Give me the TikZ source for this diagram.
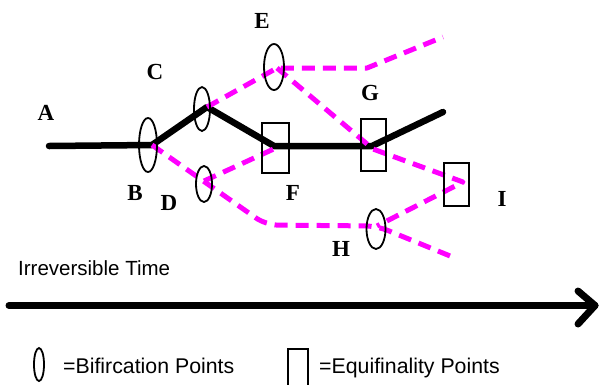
\documentclass[tikz,border=0pt]{standalone}
\usepackage{fontspec}
\setmainfont{Liberation Serif}
\newfontfamily\legendfont{Liberation Sans}
\usetikzlibrary{shapes.geometric}

\definecolor{altpink}{RGB}{255,0,255}

\tikzset{
  bif/.style 2 args={draw, ellipse, line width=1.8pt, inner sep=0pt,
    minimum width=#1, minimum height=#2},
  eqf/.style 2 args={draw, rectangle, line width=1.8pt, inner sep=0pt,
    minimum width=#1, minimum height=#2},
  mainpath/.style={line width=6.5pt, line cap=round, line join=round},
  altpath/.style={altpink, line width=5pt, dash pattern=on 13pt off 8pt,
    line join=round},
  lbl/.style={font=\fontsize{23}{23}\selectfont\bfseries, inner sep=0pt},
  legtext/.style={font=\legendfont\fontsize{21.3}{21.3}\selectfont,
    inner sep=0pt, anchor=base west},
  timetext/.style={legtext, font=\legendfont\fontsize{20.5}{20.5}\selectfont},
  timeline/.style={line width=7pt, line cap=round, line join=round}
}

\begin{document}
\begin{tikzpicture}[x=1pt,y=-1pt]
\useasboundingbox (0,0) rectangle (599,384);

% junction points of the trajectories
\coordinate (start) at (49,146);
\coordinate (jB) at (152,145);
\coordinate (jC) at (207,107);
\coordinate (jF) at (274,146);
\coordinate (jG) at (372,146);
\coordinate (endG) at (443,112);
\coordinate (jE) at (277,68);
\coordinate (kE) at (367,68);
\coordinate (endE) at (443,37);
\coordinate (jD) at (204,181);
\coordinate (jF2) at (278,147);
\coordinate (bend) at (266,225);
\coordinate (jH) at (377,226);
\coordinate (endH) at (455,258);
\coordinate (jI) at (463,182);
\coordinate (mG) at (373,149);

% realised trajectory
\draw[mainpath] (start) -- (jB) -- (jC) -- (jF) -- (jG) -- (endG);

% alternative trajectories
\draw[altpath, rounded corners=12pt] (jB) -- (bend) -- (jH) -- (endH);
\draw[altpath] (jD) -- (jF2);
\draw[altpath] (jC) -- (jE) -- (kE) -- (endE);
\draw[altpath] (jE) -- (mG) -- (jI) -- (jH);

% bifurcation points
\node[bif={18}{54}] (B) at (148,145) {};
\node[bif={16}{44}] (C) at (202,109) {};
\node[bif={16}{36}] (D) at (204,184) {};
\node[bif={20}{46}] (E) at (274,67) {};
\node[bif={19}{40}] (H) at (376,229) {};

% equifinality points
\node[eqf={27}{50}] (F) at (275.5,148) {};
\node[eqf={25}{52}] (G) at (373.5,145) {};
\node[eqf={25}{43}] (I) at (456.5,184.5) {};

% point labels
\node[lbl] (lA) at (46,113) {A};
\node[lbl] (lB) at (135,193) {B};
\node[lbl] (lC) at (155,72) {C};
\node[lbl] (lD) at (169,203) {D};
\node[lbl] (lE) at (262,21) {E};
\node[lbl] (lF) at (293,193) {F};
\node[lbl] (lG) at (370,93) {G};
\node[lbl] (lH) at (341,249) {H};
\node[lbl] (lI) at (502,199) {I};

% time axis
\node[timetext] (time) at (18,275) {Irreversible Time};
\coordinate (t0) at (9,305.5);
\coordinate (t1) at (595,305.5);
\coordinate (tb1) at (578,291);
\coordinate (tb2) at (578,324);
\draw[timeline] (t0) -- (t1);
\draw[timeline] (tb1) -- (t1) -- (tb2);

% legend
\node[bif={10}{33}] (legB) at (39,364.5) {};
\node[legtext] (legBt) at (63,373) {=Bifircation Points};
\node[eqf={20}{50}] (legE) at (298,374) {};
\node[legtext] (legEt) at (319,373) {=Equifinality Points};
\end{tikzpicture}
\end{document}
